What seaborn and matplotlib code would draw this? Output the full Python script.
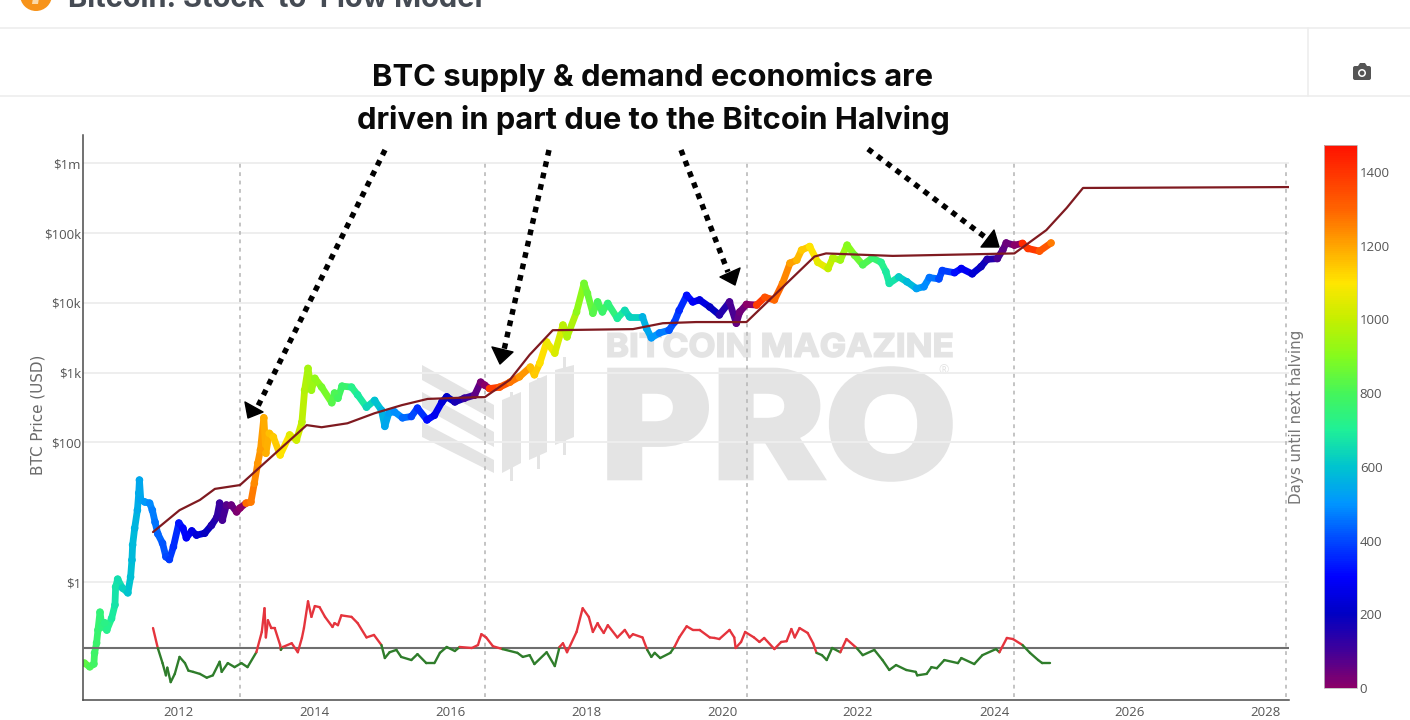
import numpy as np
import pandas as pd
import matplotlib
import seaborn as sns
matplotlib.use("Agg")
import matplotlib.pyplot as plt
from matplotlib.cm import ScalarMappable
from matplotlib.collections import LineCollection
from matplotlib.colors import LinearSegmentedColormap, Normalize
from matplotlib.font_manager import FontProperties
from matplotlib.patches import Circle, FancyBboxPatch, PathPatch, Polygon
from matplotlib.text import TextPath
from matplotlib.transforms import Affine2D

# BTC price (decimal year, USD)
price_year = [2010.62, 2010.70, 2010.76, 2010.77, 2010.80, 2010.82, 2010.85, 2010.88, 2010.92, 2010.95,
              2011.02, 2011.07, 2011.08, 2011.11, 2011.18, 2011.26, 2011.30, 2011.32, 2011.33, 2011.36,
              2011.40, 2011.42, 2011.43, 2011.45, 2011.51, 2011.58, 2011.62, 2011.66, 2011.70, 2011.77,
              2011.82, 2011.87, 2011.93, 2012.01, 2012.07, 2012.12, 2012.20, 2012.27, 2012.39, 2012.49,
              2012.57, 2012.61, 2012.65, 2012.71, 2012.78, 2012.86, 2012.91, 2013.00, 2013.07, 2013.12,
              2013.17, 2013.21, 2013.26, 2013.29, 2013.34, 2013.40, 2013.50, 2013.64, 2013.74, 2013.82,
              2013.86, 2013.91, 2013.96, 2014.01, 2014.11, 2014.26, 2014.30, 2014.35, 2014.41, 2014.55,
              2014.64, 2014.77, 2014.89, 2014.99, 2015.04, 2015.10, 2015.18, 2015.30, 2015.43, 2015.52,
              2015.66, 2015.77, 2015.88, 2015.95, 2016.07, 2016.21, 2016.36, 2016.45, 2016.51, 2016.58,
              2016.73, 2016.88, 2017.02, 2017.18, 2017.24, 2017.32, 2017.42, 2017.54, 2017.66, 2017.72,
              2017.86, 2017.97, 2018.02, 2018.10, 2018.17, 2018.24, 2018.32, 2018.46, 2018.57, 2018.64,
              2018.83, 2018.89, 2018.96, 2019.08, 2019.22, 2019.30, 2019.37, 2019.48, 2019.57, 2019.67,
              2019.82, 2019.96, 2020.11, 2020.21, 2020.26, 2020.36, 2020.51, 2020.63, 2020.77, 2020.89,
              2021.00, 2021.10, 2021.17, 2021.29, 2021.41, 2021.56, 2021.63, 2021.74, 2021.84, 2021.95,
              2022.07, 2022.21, 2022.34, 2022.41, 2022.46, 2022.60, 2022.72, 2022.86, 2022.97, 2023.05,
              2023.19, 2023.24, 2023.42, 2023.52, 2023.68, 2023.81, 2023.90, 2024.05, 2024.13, 2024.18,
              2024.30, 2024.42, 2024.50, 2024.67, 2024.84]
price_usd = [0.069, 0.061, 0.067, 0.096, 0.134, 0.205, 0.37, 0.227, 0.26, 0.205,
             0.30, 0.47, 0.85, 1.10, 0.82, 0.70, 1.18, 2.07, 3.4, 5.9,
             10.7, 18.8, 28.9, 15, 14, 13.5, 10.7, 7.2, 4.9, 3.6,
             2.3, 2.1, 3.2, 7.0, 5.9, 4.3, 5.4, 4.7, 5.0, 6.5,
             8.5, 13.5, 7.7, 12.7, 12.7, 10.1, 11.5, 13.5, 14, 26,
             50, 78, 225, 70, 135, 120, 66, 128, 108, 195,
             560, 1150, 560, 830, 620, 370, 510, 430, 640, 620,
             480, 320, 400, 290, 170, 265, 275, 225, 235, 310,
             210, 245, 380, 450, 380, 430, 475, 730, 660, 590,
             620, 730, 870, 1200, 930, 1370, 2750, 1900, 4800, 3250,
             7400, 19000, 13700, 7100, 10300, 7400, 9800, 6000, 7800, 6300,
             6300, 4300, 3150, 3700, 4050, 5300, 7800, 12800, 10300, 11000,
             8700, 6700, 10300, 5100, 7400, 9500, 9300, 12000, 11000, 19000,
             37000, 41000, 57000, 64000, 38000, 31000, 44000, 41000, 67000, 48000,
             35000, 44000, 38000, 28000, 19000, 23500, 20000, 16000, 17000, 23000,
             22000, 29000, 27000, 31000, 26000, 33000, 42000, 43000, 57000, 72000,
             67000, 71000, 60000, 55000, 72000]

# Stock-to-flow model line
model_year = [2011.63, 2012.02, 2012.32, 2012.54, 2012.91, 2013.89, 2014.11, 2014.49, 2014.89, 2015.29,
              2015.67, 2016.41, 2016.51, 2016.88, 2017.17, 2017.51, 2018.69, 2019.13, 2019.62, 2020.36,
              2021.36, 2021.53, 2022.51, 2024.30, 2024.77, 2025.07, 2025.31, 2028.34]
model_usd = [5.2, 10.7, 15, 21.6, 24.5, 177, 165, 188, 262, 342,
             420, 445, 445, 790, 1800, 4050, 4200, 5100, 5300, 5300,
             46000, 51000, 47000, 51000, 110000, 229000, 442000, 455000]

# Price / model ratio, lower band of the chart
ratio_year = [2011.63, 2011.70, 2011.77, 2011.82, 2011.84, 2011.89, 2011.95, 2012.02, 2012.10, 2012.15,
              2012.22, 2012.32, 2012.42, 2012.51, 2012.61, 2012.64, 2012.73, 2012.83, 2012.93, 2013.02,
              2013.15, 2013.23, 2013.27, 2013.29, 2013.32, 2013.37, 2013.42, 2013.50, 2013.51, 2013.54,
              2013.67, 2013.76, 2013.82, 2013.85, 2013.91, 2013.96, 2014.01, 2014.08, 2014.16, 2014.27,
              2014.30, 2014.35, 2014.40, 2014.55, 2014.64, 2014.77, 2014.88, 2014.99, 2015.04, 2015.11,
              2015.21, 2015.28, 2015.43, 2015.52, 2015.65, 2015.77, 2015.85, 2015.95, 2016.07, 2016.14,
              2016.32, 2016.41, 2016.46, 2016.53, 2016.63, 2016.77, 2016.99, 2017.07, 2017.17, 2017.24,
              2017.42, 2017.54, 2017.61, 2017.66, 2017.72, 2017.86, 2017.95, 2018.04, 2018.10, 2018.17,
              2018.20, 2018.26, 2018.32, 2018.46, 2018.57, 2018.64, 2018.69, 2018.83, 2018.90, 2018.96,
              2019.01, 2019.09, 2019.24, 2019.30, 2019.37, 2019.48, 2019.57, 2019.67, 2019.82, 2019.89,
              2019.96, 2020.11, 2020.18, 2020.20, 2020.28, 2020.34, 2020.47, 2020.55, 2020.62, 2020.77,
              2020.87, 2020.95, 2021.02, 2021.07, 2021.14, 2021.26, 2021.34, 2021.39, 2021.47, 2021.54,
              2021.62, 2021.74, 2021.83, 2021.98, 2022.07, 2022.24, 2022.36, 2022.46, 2022.56, 2022.71,
              2022.85, 2022.87, 2023.01, 2023.08, 2023.16, 2023.27, 2023.47, 2023.52, 2023.71, 2023.83,
              2024.03, 2024.08, 2024.19, 2024.28, 2024.42, 2024.53, 2024.65, 2024.71, 2024.83]
ratio_value = [2.15, 1.0, 0.56, 0.35, 0.47, 0.27, 0.37, 0.71, 0.56, 0.42,
               0.40, 0.37, 0.32, 0.35, 0.59, 0.40, 0.56, 0.48, 0.56, 0.48,
               0.85, 1.85, 4.6, 1.5, 2.9, 2.15, 2.15, 1.12, 0.93, 1.04,
               1.2, 0.85, 1.47, 2.15, 6.0, 3.3, 5.0, 4.8, 3.3, 2.24,
               2.6, 2.4, 3.5, 3.3, 2.6, 1.5, 1.65, 1.12, 0.68, 0.85,
               0.93, 0.71, 0.63, 0.79, 0.56, 0.56, 0.83, 1.04, 0.89, 1.04,
               1.0, 1.12, 1.7, 1.5, 1.07, 0.96, 0.83, 0.71, 0.76, 0.54,
               0.85, 0.50, 1.04, 1.2, 0.85, 1.85, 4.6, 3.3, 1.85, 2.6,
               2.24, 1.78, 2.4, 1.5, 2.0, 1.5, 1.7, 1.5, 0.93, 0.71,
               0.83, 0.68, 0.83, 1.04, 1.5, 2.3, 2.0, 2.0, 1.5, 1.47,
               1.41, 2.0, 1.5, 1.0, 1.26, 1.85, 1.5, 1.26, 1.47, 0.96,
               1.26, 1.3, 2.07, 1.5, 2.15, 1.78, 1.2, 0.83, 0.76, 0.63,
               1.0, 0.85, 1.41, 1.0, 0.76, 0.93, 0.63, 0.43, 0.52, 0.43,
               0.40, 0.35, 0.37, 0.48, 0.46, 0.63, 0.56, 0.68, 0.54, 0.76,
               0.96, 0.85, 1.47, 1.41, 1.12, 0.83, 0.63, 0.56, 0.56]

halving_years = [2012.91, 2016.52, 2020.36, 2024.30, 2028.30]
y_ticks = [1, 100, 1000, 10000, 100000, 1000000]
y_tick_labels = ["$1", "$100", "$1k", "$10k", "$100k", "$1m"]
x_ticks = [2012, 2014, 2016, 2018, 2020, 2022, 2024, 2026, 2028]
cbar_ticks = [0, 200, 400, 600, 800, 1000, 1200, 1400]

TICK_COLOR = "#555555"
GRID_COLOR = "#eeeeee"
WATERMARK = "#e4e4e4"
DAYS_MAX = 1473

halving_cmap = LinearSegmentedColormap.from_list("halving", [
    (0 / DAYS_MAX, "#8a0068"), (100 / DAYS_MAX, "#40009a"), (200 / DAYS_MAX, "#0000c4"),
    (300 / DAYS_MAX, "#0000ff"), (400 / DAYS_MAX, "#0048ff"), (500 / DAYS_MAX, "#0096ff"),
    (600 / DAYS_MAX, "#00c4cf"), (700 / DAYS_MAX, "#1ff097"), (800 / DAYS_MAX, "#45f55a"),
    (900 / DAYS_MAX, "#85fb1d"), (1000 / DAYS_MAX, "#c4ef00"), (1100 / DAYS_MAX, "#ffe600"),
    (1200 / DAYS_MAX, "#ffa600"), (1300 / DAYS_MAX, "#ff6400"), (1, "#ff1200"),
])
days_norm = Normalize(0, DAYS_MAX)


def days_to_next_halving(years):
    halvings = np.array(halving_years)
    idx = np.searchsorted(halvings, years)
    return (halvings[idx] - np.array(years)) * 365.25


def fit_text(axis, text, x0, x1, y_top, y_bottom, weight="bold", edge=1.2):
    """Draw text as a filled path stretched into a pixel box (y grows downward)."""
    path = TextPath((0, 0), text, size=100, prop=FontProperties(family="Inter", weight=weight))
    box = path.get_extents()
    tr = (Affine2D().translate(-box.x0, -box.y0)
          .scale((x1 - x0) / box.width, -(y_bottom - y_top) / box.height)
          .translate(x0, y_bottom))
    axis.add_patch(PathPatch(tr.transform_path(path), fc=WATERMARK, ec=WATERMARK, lw=edge))


def segments(x, y):
    pts = np.column_stack([x, y]).reshape(-1, 1, 2)
    return np.concatenate([pts[:-1], pts[1:]], axis=1)


sns.set_style("white")
plt.rcParams["font.family"] = ["Open Sans", "DejaVu Sans"]

fig = plt.figure(figsize=(14.1, 7.2), dpi=100, facecolor="white")

# Pixel canvas behind the chart: page furniture and watermark
back = fig.add_axes([0, 0, 1, 1], zorder=0)
back.set_xlim(0, 1410)
back.set_ylim(720, 0)
back.axis("off")

back.plot([0, 1410], [28, 28], color="#ededed", lw=1.2)
back.plot([0, 1410], [96, 96], color="#ededed", lw=1.2)
back.plot([1308, 1308], [28, 96], color="#ededed", lw=1.2)
back.add_patch(Circle((36, -5), 16, fc="#f7931a", ec="none"))
# bitcoin glyph of the icon, no installed font has it
back.add_patch(Polygon([(33, -2), (39, -2), (38, 4), (32, 4)], fc="#fbd9a8", ec="none"))
back.text(68, 7, "Bitcoin: Stock-to-Flow Model", color="#454b54", fontsize=20.9, family="Inter",
          fontweight="bold", va="baseline", ha="left")

# camera icon
back.add_patch(FancyBboxPatch((1353, 66), 18, 14, boxstyle="round,pad=0,rounding_size=2", fc="#555555", ec="none"))
back.add_patch(Polygon([(1358, 66), (1360, 63), (1365, 63), (1367, 66)], fc="#555555", ec="none"))
back.add_patch(Circle((1362, 73), 4, fc="white", ec="none"))
back.add_patch(Circle((1362, 73), 2.4, fc="#555555", ec="none"))

# watermark logo
for band in ([(422, 365), (494, 405), (494, 420), (422, 380)],
             [(422, 392), (494, 432), (494, 447), (422, 407)],
             [(422, 422), (494, 460), (494, 473), (422, 437)],
             [(502, 400), (502, 473), (521, 463), (521, 392)],
             [(529, 383), (529, 460), (547, 452), (547, 375)],
             [(555, 370), (555, 445), (574, 437), (574, 365)],
             [(510, 392), (510, 481), (513, 481), (513, 392)],
             [(537, 378), (537, 469), (540, 469), (540, 378)],
             [(563, 357), (563, 455), (566, 455), (566, 357)]):
    back.add_patch(Polygon(band, fc=WATERMARK, ec="none"))
fit_text(back, "BITCOIN MAGAZINE", 608, 952, 333, 357)
fit_text(back, "PRO", 610, 950, 369, 479, weight="heavy", edge=4)
back.text(944, 371, "\u00ae", color=WATERMARK, fontsize=9, ha="center", va="center")

# Main chart, log price axis
ax = fig.add_axes([83 / 1410, (720 - 700) / 720, (1289 - 83) / 1410, (700 - 135) / 720], zorder=1)
ax.patch.set_alpha(0)
ax.set_yscale("log")
ax.set_xlim(2010.6, 2028.34)
ax.set_ylim(10 ** -1.69, 10 ** 6.404)

for yt in y_ticks:
    ax.axhline(yt, color=GRID_COLOR, lw=1.4, zorder=1)
ax.vlines(halving_years, 10 ** -1.65, 1e6, color="#b4b4b4", lw=1.1, linestyles=(0, (2.5, 3)), zorder=1.5)

price_days = days_to_next_halving(price_year)
price_lines = LineCollection(segments(price_year, np.array(price_usd)), linewidths=4.9, capstyle="round",
                             colors=halving_cmap(days_norm(price_days[:-1])), zorder=2)
ax.add_collection(price_lines)
price_df = pd.DataFrame({"year": price_year, "price": price_usd, "days": price_days})
sns.scatterplot(data=price_df, x="year", y="price", hue="days", palette=halving_cmap, hue_norm=days_norm,
                s=30, linewidth=0, legend=False, ax=ax, zorder=2.1)

model_df = pd.DataFrame({"year": model_year, "model": model_usd})
sns.lineplot(data=model_df, x="year", y="model", color="#7f1a20", lw=1.6, estimator=None, sort=False,
             ax=ax, zorder=3)

ax.set_xticks(x_ticks)
ax.set_xticklabels([str(v) for v in x_ticks])
ax.set_yticks(y_ticks)
ax.set_yticklabels(y_tick_labels)
ax.minorticks_off()
ax.tick_params(axis="both", length=0, labelsize=9.5, labelcolor=TICK_COLOR)
ax.tick_params(axis="x", pad=4)
ax.tick_params(axis="y", pad=1.5)
ax.set_xlabel("")
ax.set_ylabel("")
for side in ["top", "right"]:
    ax.spines[side].set_visible(False)
for side in ["left", "bottom"]:
    ax.spines[side].set_color("#4a4a4a")
    ax.spines[side].set_linewidth(1.1)

# Ratio band shares the pixels of the main chart, 1.0 sits at y=648
ratio_ax = ax.twinx()
ratio_ax.patch.set_alpha(0)
ratio_ax.set_yscale("log")
ratio_ax.set_ylim(10 ** (-52 / 60), 10 ** (513 / 60))
ratio_ax.axhline(1, color="#6e6e6e", lw=1.5, zorder=1)
ratio = np.array(ratio_value)
mid = (ratio[:-1] + ratio[1:]) / 2
ratio_ax.add_collection(LineCollection(segments(ratio_year, ratio), linewidths=1.7, capstyle="round",
                                       colors=np.where(mid >= 1, "#e5343d", "#2f7d2b"), zorder=2))
ratio_ax.set_yticks([])
ratio_ax.minorticks_off()
ratio_ax.tick_params(axis="y", which="both", length=0, labelright=False)
for spine in ratio_ax.spines.values():
    spine.set_visible(False)

# Colorbar
cax = fig.add_axes([1324 / 1410, (720 - 688) / 720, 33 / 1410, (688 - 145) / 720], zorder=1)
cbar = fig.colorbar(ScalarMappable(norm=days_norm, cmap=halving_cmap), cax=cax, ticks=cbar_ticks)
cbar.ax.tick_params(length=0, labelsize=9.5, labelcolor=TICK_COLOR, pad=2)
cbar.outline.set_edgecolor("#bdbdbd")
cbar.outline.set_linewidth(0.6)

# Annotations on top of everything
front = fig.add_axes([0, 0, 1, 1], zorder=3)
front.patch.set_alpha(0)
front.set_xlim(0, 1410)
front.set_ylim(720, 0)
front.axis("off")

front.text(653, 77, "BTC supply & demand economics are", fontsize=22.25, family="Inter", fontweight="bold",
           color="#0a0a0a", ha="center", va="center")
front.text(653, 120, "driven in part due to the Bitcoin Halving", fontsize=22.25, family="Inter",
           fontweight="bold", color="#0a0a0a", ha="center", va="center")
front.text(38, 415, "BTC Price (USD)", fontsize=10.9, color="#6a6a6a", family="DejaVu Sans", rotation=90,
           ha="center", va="center")
front.text(1297, 417, "Days until next halving", fontsize=10.9, color="#777777", family="DejaVu Sans",
           rotation=90, ha="center", va="center")

arrows = [
    ((385, 150), (257, 408), [(245, 402), (263, 412), (248, 418)]),
    ((549, 150), (504, 350), [(492, 347), (513, 352), (500, 364)]),
    ((681, 150), (728, 272), [(720, 277), (740, 268), (735, 285)]),
    ((868, 149), (985, 237), [(981, 247), (994, 230), (999, 247)]),
]
for start, end, head in arrows:
    front.plot([start[0], end[0]], [start[1], end[1]], color="black", lw=3.9, linestyle=(0, (1.05, 1.1)),
               dash_capstyle="butt")
    front.add_patch(Polygon(head, fc="black", ec="black", lw=1, joinstyle="round"))

fig.savefig("out.png", dpi=100, facecolor="white")
